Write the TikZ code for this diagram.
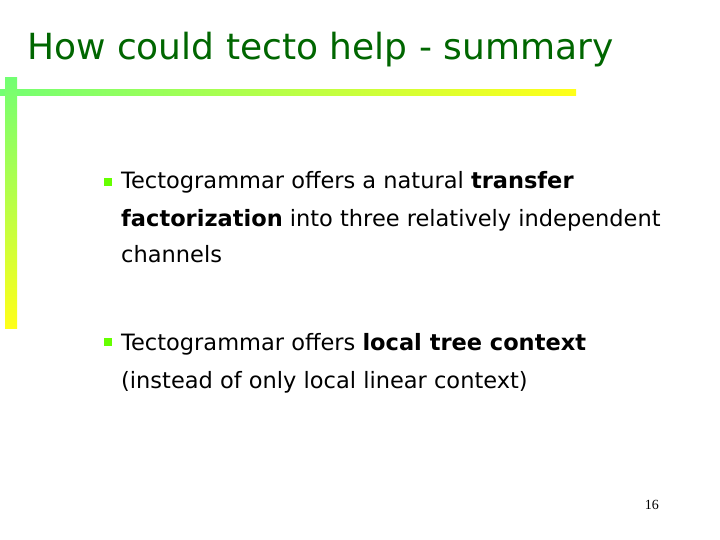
\documentclass[tikz,border=0pt]{standalone}
\usepackage{fontspec}
\setmainfont{DejaVu Sans}
\newfontfamily\pgfont{Liberation Serif}
\begin{document}
\begin{tikzpicture}[x=1pt,y=-1pt,
  body/.style={anchor=base west,inner sep=0,font=\fontsize{22.5}{26}\selectfont},
  bul/.style={fill=green!60!yellow,minimum size=8pt,inner sep=0}]
\useasboundingbox (0,0) rectangle (720,540);
\node[anchor=base west,inner sep=0,text=green!40!black,font=\fontsize{36}{40}\selectfont] (title) at (27,60) {How could tecto help - summary};
\shade[left color=green!55!white,right color=yellow!90!white] (0,90) rectangle (576,96);
\shade[top color=green!55!white,bottom color=yellow!90!white] (5,78) rectangle (17,328);
\node[bul] (b1) at (108,182) {};
\node[body] (l1) at (121,189) {Tectogrammar offers a natural \textbf{transfer}};
\node[body] (l2) at (121,226) {\textbf{factorization} into three relatively independent};
\node[body] (l3) at (121,262) {channels};
\node[bul] (b2) at (108,342) {};
\node[body] (l4) at (121,350) {Tectogrammar offers \textbf{local tree context}};
\node[body] (l5) at (121,388) {(instead of only local linear context)};
\node[anchor=base east,inner sep=0,font=\pgfont\fontsize{14}{16}\selectfont] (pg) at (659,509) {16};
\end{tikzpicture}
\end{document}
